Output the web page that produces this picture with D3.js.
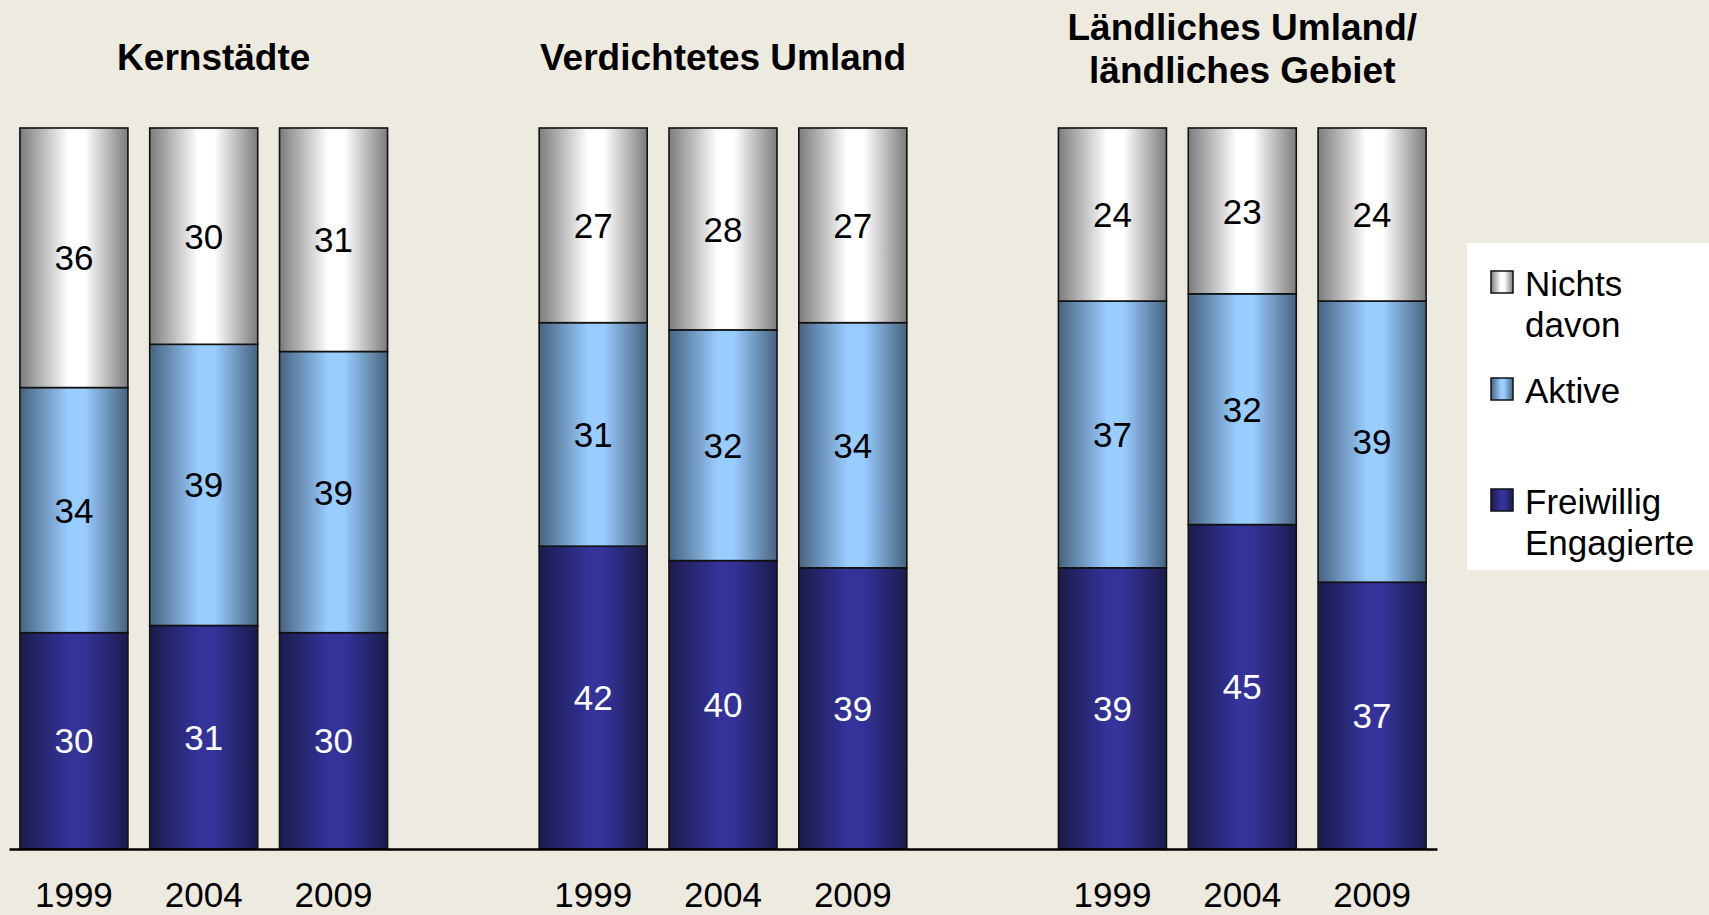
<!DOCTYPE html>
<meta charset="utf-8">
<style>
body { margin: 0; background: #edebe0; }
svg { display: block; font-family: "Liberation Sans", Arial, sans-serif; }
.val { font-size: 35px; text-anchor: middle; }
.title { font-size: 37px; font-weight: bold; text-anchor: middle; }
.legend text { font-size: 35px; }
</style>
<body>
<svg width="1709" height="915"></svg>
<script src="https://d3js.org/d3.v7.min.js"></script>
<script>

// data
var groups = ["Kernstädte", "Verdichtetes Umland", "Ländliches Umland/\nländliches Gebiet"];
var years = ["1999", "2004", "2009"];
var series = ["Freiwillig Engagierte", "Aktive", "Nichts davon"];
var freiwillig = [30, 31, 30, 42, 40, 39, 39, 45, 37];
var aktive     = [34, 39, 39, 31, 32, 34, 37, 32, 39];
var nichts     = [36, 30, 31, 27, 28, 27, 24, 23, 24];

var svg = d3.select("svg"),
    width = +svg.attr("width"),
    height = +svg.attr("height");

// slots: 3 bars per group, one empty slot between groups
var slots = [];
var rows = [];
groups.forEach(function(g, gi) {
  if (gi > 0) slots.push("gap" + gi);
  years.forEach(function(y, yi) {
    var i = gi * 3 + yi;
    var key = gi + "-" + y;
    slots.push(key);
    rows.push({key: key, group: gi, year: y,
      "Freiwillig Engagierte": freiwillig[i], "Aktive": aktive[i], "Nichts davon": nichts[i]});
  });
});

var x = d3.scaleBand()
    .domain(slots)
    .range([9, 1437])
    .paddingInner(0.168)
    .paddingOuter(0.084);

var y = d3.scaleLinear()
    .domain([0, 100])
    .range([849, 128]);

var colors = {
  "Freiwillig Engagierte": ["#1b1b4c", "#333399"],
  "Aktive": ["#47637f", "#99ccff"],
  "Nichts davon": ["#7c7c7c", "#ffffff"]
};
var ids = {"Freiwillig Engagierte": "gF", "Aktive": "gA", "Nichts davon": "gN"};

var defs = svg.append("defs");
series.forEach(function(s) {
  var grad = defs.append("linearGradient").attr("id", ids[s])
      .attr("x1", 0).attr("x2", 1).attr("y1", 0).attr("y2", 0);
  grad.append("stop").attr("offset", 0).attr("stop-color", colors[s][0]);
  grad.append("stop").attr("offset", 0.45).attr("stop-color", colors[s][1]);
  grad.append("stop").attr("offset", 0.6).attr("stop-color", colors[s][1]);
  grad.append("stop").attr("offset", 1).attr("stop-color", colors[s][0]);
});

var stack = d3.stack().keys(series)(rows);

var layer = svg.selectAll(".layer")
  .data(stack)
  .enter().append("g")
    .attr("class", "layer")
    .attr("fill", function(d) { return "url(#" + ids[d.key] + ")"; });

layer.selectAll("rect")
  .data(function(d) { return d; })
  .enter().append("rect")
    .attr("x", function(d) { return x(d.data.key); })
    .attr("y", function(d) { return y(d[1]); })
    .attr("width", x.bandwidth())
    .attr("height", function(d) { return y(d[0]) - y(d[1]); })
    .attr("stroke", "#111")
    .attr("stroke-width", 1.6);

layer.selectAll("text")
  .data(function(d) { return d.map(function(p) { p.series = d.key; return p; }); })
  .enter().append("text")
    .attr("class", "val")
    .attr("x", function(d) { return x(d.data.key) + x.bandwidth() / 2; })
    .attr("y", function(d) { return (y(d[0]) + y(d[1])) / 2; })
    .attr("dy", "0.36em")
    .attr("fill", function(d) { return d.series === "Freiwillig Engagierte" ? "#fff" : "#000"; })
    .text(function(d) { return d[1] - d[0]; });

// x axis
var axis = svg.append("g")
    .attr("transform", "translate(0," + y(0) + ")")
    .call(d3.axisBottom(x)
      .tickSize(0)
      .tickSizeOuter(0)
      .tickFormat(function(k) { return k.indexOf("gap") === 0 ? "" : k.split("-")[1]; }));
axis.select(".domain").attr("stroke", "#000").attr("stroke-width", 2.5);
axis.selectAll("text")
    .attr("y", 58)
    .attr("dy", 0)
    .attr("fill", "#000")
    .style("font-size", "35px")
    .style("font-family", "'Liberation Sans', Arial, sans-serif");

// group titles
groups.forEach(function(g, gi) {
  var cx = x(gi + "-" + years[1]) + x.bandwidth() / 2;
  var lines = g.split("\n");
  var t = svg.append("text").attr("class", "title");
  if (lines.length === 1) {
    t.append("tspan").attr("x", cx + (gi === 0 ? 10 : 0)).attr("y", 70).text(lines[0]);
  } else {
    lines.forEach(function(l, li) {
      t.append("tspan").attr("x", cx).attr("y", 40 + li * 43).text(l);
    });
  }
});

// legend
var legend = svg.append("g").attr("class", "legend");
legend.append("rect")
    .attr("x", 1467).attr("y", 243)
    .attr("width", 250).attr("height", 327)
    .attr("fill", "#fff");

var legendItems = [
  {s: "Nichts davon", lines: ["Nichts", "davon"], y: 296},
  {s: "Aktive", lines: ["Aktive"], y: 403},
  {s: "Freiwillig Engagierte", lines: ["Freiwillig", "Engagierte"], y: 514}
];
legendItems.forEach(function(it) {
  legend.append("rect")
      .attr("x", 1491).attr("y", it.y - 25)
      .attr("width", 22).attr("height", 22)
      .attr("fill", "url(#" + ids[it.s] + ")")
      .attr("stroke", "#111")
      .attr("stroke-width", 1.5);
  var t = legend.append("text");
  it.lines.forEach(function(l, li) {
    t.append("tspan").attr("x", 1525).attr("y", it.y + li * 41).text(l);
  });
});

</script>
</body>
